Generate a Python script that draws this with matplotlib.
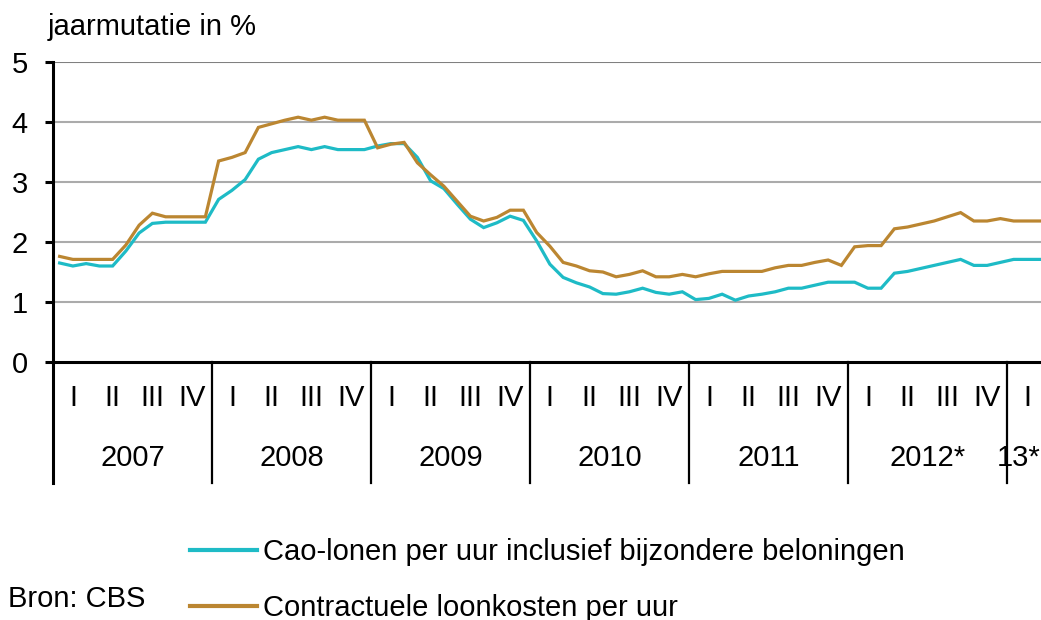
import numpy as np
import matplotlib
matplotlib.use("Agg")
import matplotlib.pyplot as plt
from matplotlib.lines import Line2D

plt.rcParams['font.family'] = ['Liberation Sans', 'DejaVu Sans']

# monthly year-on-year change (%), Jan 2007 .. Mar 2013
cao_lonen = [
    1.65, 1.60, 1.64, 1.60, 1.60, 1.85, 2.15, 2.31, 2.33, 2.33, 2.33, 2.33,   # 2007
    2.71, 2.86, 3.04, 3.38, 3.49, 3.54, 3.59, 3.54, 3.59, 3.54, 3.54, 3.54,   # 2008
    3.60, 3.64, 3.64, 3.41, 3.02, 2.89, 2.63, 2.38, 2.24, 2.32, 2.43, 2.36,   # 2009
    2.02, 1.63, 1.41, 1.32, 1.25, 1.14, 1.13, 1.17, 1.23, 1.16, 1.13, 1.17,   # 2010
    1.04, 1.06, 1.13, 1.03, 1.10, 1.13, 1.17, 1.23, 1.23, 1.28, 1.33, 1.33,   # 2011
    1.33, 1.23, 1.23, 1.48, 1.51, 1.56, 1.61, 1.66, 1.71, 1.61, 1.61, 1.66,   # 2012
    1.71, 1.71, 1.71,                                                         # 2013
]
loonkosten = [
    1.76, 1.71, 1.71, 1.71, 1.71, 1.95, 2.28, 2.48, 2.42, 2.42, 2.42, 2.42,   # 2007
    3.35, 3.41, 3.49, 3.91, 3.97, 4.03, 4.08, 4.03, 4.08, 4.03, 4.03, 4.03,   # 2008
    3.57, 3.63, 3.66, 3.32, 3.12, 2.93, 2.68, 2.43, 2.35, 2.41, 2.53, 2.53,   # 2009
    2.16, 1.93, 1.66, 1.60, 1.52, 1.50, 1.42, 1.46, 1.52, 1.42, 1.42, 1.46,   # 2010
    1.42, 1.47, 1.51, 1.51, 1.51, 1.51, 1.57, 1.61, 1.61, 1.66, 1.70, 1.61,   # 2011
    1.92, 1.94, 1.94, 2.22, 2.25, 2.30, 2.35, 2.42, 2.49, 2.35, 2.35, 2.39,   # 2012
    2.35, 2.35, 2.35,                                                         # 2013
]
years = ['2007', '2008', '2009', '2010', '2011', '2012*', '13*']
quarters = ['I', 'II', 'III', 'IV']
labels = ['Cao-lonen per uur inclusief bijzondere beloningen',
          'Contractuele loonkosten per uur']

TEAL = '#1EBBC6'
BROWN = '#BB8631'
W, H = 1041, 620
FS = 21

fig = plt.figure(figsize=(W / 100, H / 100), dpi=100)
ax = fig.add_axes([53 / W, (H - 362) / H, (W - 53) / W, 300 / H])

x = np.arange(len(cao_lonen)) + 0.5
ax.plot(x, cao_lonen, color=TEAL, lw=2.3, solid_joinstyle='miter', zorder=3)
ax.plot(x, loonkosten, color=BROWN, lw=2.3, solid_joinstyle='miter', zorder=4)

xmax = (W - 53) / 13.25
ax.set_xlim(0, xmax)
ax.set_ylim(0, 5)
ax.set_yticks(range(6))
ax.set_xticks([])
ax.tick_params(axis='y', length=6, width=2.2, pad=12, labelsize=FS)
for v in range(1, 6):
    ax.axhline(v, color='#808080' if v == 5 else '#ABABAB', lw=1.5, zorder=1)

for s in ['top', 'right']:
    ax.spines[s].set_visible(False)
ax.spines['left'].set_linewidth(2.2)
ax.spines['bottom'].set_linewidth(2.2)
ax.spines['bottom'].set_zorder(5)

# category axis below the plot: quarters, years and dividers
tr = ax.get_xaxis_transform()
bottom = -(483 - 362) / 300
ax.plot([0, 0], [0, bottom], transform=tr, color='black', lw=2.2, clip_on=False)
for i, yr in enumerate(years):
    start = 12 * i
    end = min(start + 12, xmax)
    if i > 0:
        ax.plot([start, start], [0, bottom], transform=tr, color='black', lw=1.6, clip_on=False)
    cx = (start + end) / 2 if end - start == 12 else end - 1.7
    ax.text(cx, -(458 - 362) / 300, yr, transform=tr,
            ha='center', va='center', fontsize=FS, clip_on=False)
    for q, ql in enumerate(quarters):
        qx = start + 1.5 + 3 * q
        if qx < xmax:
            ax.text(qx, -(398 - 362) / 300, ql, transform=tr,
                    ha='center', va='center', fontsize=FS, clip_on=False)

fig.text(48 / W, 1 - 27 / H, 'jaarmutatie in %', ha='left', va='center', fontsize=FS)
fig.text(8 / W, 1 - 599 / H, 'Bron: CBS', ha='left', va='center', fontsize=FS)

handles = [Line2D([], [], color=TEAL, lw=3), Line2D([], [], color=BROWN, lw=3)]
fig.legend(handles, labels, loc='upper left', bbox_to_anchor=(190 / W, 1 - 538 / H),
           frameon=False, fontsize=FS, handlelength=2.3, handletextpad=0.2,
           labelspacing=0.95, borderpad=0, borderaxespad=0)

fig.savefig('out.png', dpi=100)
